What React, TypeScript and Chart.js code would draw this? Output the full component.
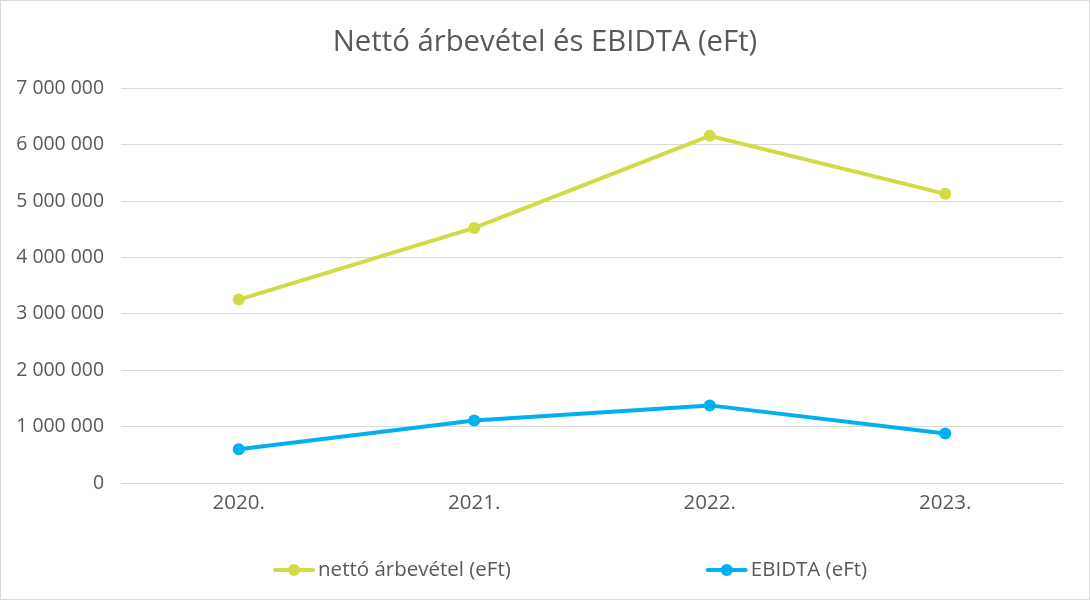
import React, { useEffect, useRef } from "react";
import { Chart, registerables } from "chart.js";

Chart.register(...registerables);

const categories = ["2020.", "2021.", "2022.", "2023."];
const nettoArbevetel = [3255000, 4525000, 6160000, 5130000];
const ebidta = [597000, 1110000, 1377000, 880000];
const seriesLabels = ["nettó árbevétel (eFt)", "EBIDTA (eFt)"];
const titleText = "Nettó árbevétel és EBIDTA (eFt)";
const yMax = 7000000;
const yStep = 1000000;

const GREEN = "#D0DB45";
const BLUE = "#00B0F0";
const TEXT = "#595959";
const GRID = "#D9D9D9";
const FONT = "'Open Sans', sans-serif";

const fmt = (v: number) => String(v).replace(/\B(?=(\d{3})+(?!\d))/g, " ");

const frame = {
  id: "frame",
  beforeDraw(chart: any) {
    const { ctx, width, height } = chart;
    ctx.save();
    ctx.fillStyle = "#fff";
    ctx.fillRect(0, 0, width, height);
    ctx.restore();
  },
  afterDraw(chart: any) {
    const { ctx, width, height } = chart;
    ctx.save();
    ctx.strokeStyle = GRID;
    ctx.lineWidth = 1;
    ctx.strokeRect(0.5, 0.5, width - 1, height - 1);
    // legend
    const starts = [0.2505, 0.6475];
    const y = 570;
    ctx.font = `20.5px ${FONT}`;
    ctx.textBaseline = "middle";
    chart.data.datasets.forEach((ds: any, i: number) => {
      const x0 = width * starts[i];
      ctx.strokeStyle = ds.borderColor;
      ctx.lineWidth = 4;
      ctx.lineCap = "round";
      ctx.beginPath();
      ctx.moveTo(x0 + 2, y);
      ctx.lineTo(x0 + 40, y);
      ctx.stroke();
      ctx.fillStyle = ds.backgroundColor;
      ctx.beginPath();
      ctx.arc(x0 + 21, y, 6, 0, Math.PI * 2);
      ctx.fill();
      ctx.fillStyle = TEXT;
      ctx.textAlign = "left";
      ctx.fillText(ds.label, x0 + 45, y);
    });
    ctx.restore();
  },
};

export default function App() {
  const ref = useRef<HTMLCanvasElement>(null);
  useEffect(() => {
    document.body.style.margin = "0";
    const chart = new Chart(ref.current!, {
      type: "line",
      data: {
        labels: categories,
        datasets: [
          {
            label: seriesLabels[0],
            data: nettoArbevetel,
            borderColor: GREEN,
            backgroundColor: GREEN,
            borderWidth: 4,
            pointRadius: 6,
            pointHoverRadius: 6,
            pointBorderWidth: 0,
            tension: 0,
          },
          {
            label: seriesLabels[1],
            data: ebidta,
            borderColor: BLUE,
            backgroundColor: BLUE,
            borderWidth: 4,
            pointRadius: 6,
            pointHoverRadius: 6,
            pointBorderWidth: 0,
            tension: 0,
          },
        ],
      },
      options: {
        animation: false,
        responsive: false,
        devicePixelRatio: 1,
        layout: { padding: { left: 0, right: 0, top: 0, bottom: 77 } },
        plugins: {
          legend: { display: false },
          tooltip: { enabled: false },
          title: {
            display: true,
            text: titleText,
            color: TEXT,
            font: { family: FONT, size: 29.3, weight: "normal" as any, lineHeight: 1.2 },
            padding: { top: 25, bottom: 28.3 },
          },
        },
        scales: {
          x: {
            offset: true,
            grid: { display: false, drawTicks: false },
            border: { display: false },
            ticks: { color: TEXT, font: { family: FONT, size: 20.5 }, padding: 8 },
            afterFit: (s: any) => { s.height = 40; },
          },
          y: {
            min: 0,
            max: yMax,
            grid: { color: GRID, lineWidth: 1, drawTicks: false },
            border: { display: false },
            ticks: {
              stepSize: yStep,
              color: TEXT,
              font: { family: FONT, size: 19.4 },
              padding: 17,
              callback: (v: any) => fmt(Number(v)),
            },
            afterFit: (s: any) => { s.width = 121; },
          },
          rightSpace: {
            type: "linear",
            position: "right",
            display: true,
            grid: { display: false, drawTicks: false },
            border: { display: false },
            ticks: { display: false },
            afterFit: (s: any) => { s.width = 27; },
          },
        },
      },
      plugins: [frame],
    });
    return () => chart.destroy();
  }, []);
  return <canvas ref={ref} width={1090} height={600} style={{ display: "block" }} />;
}
